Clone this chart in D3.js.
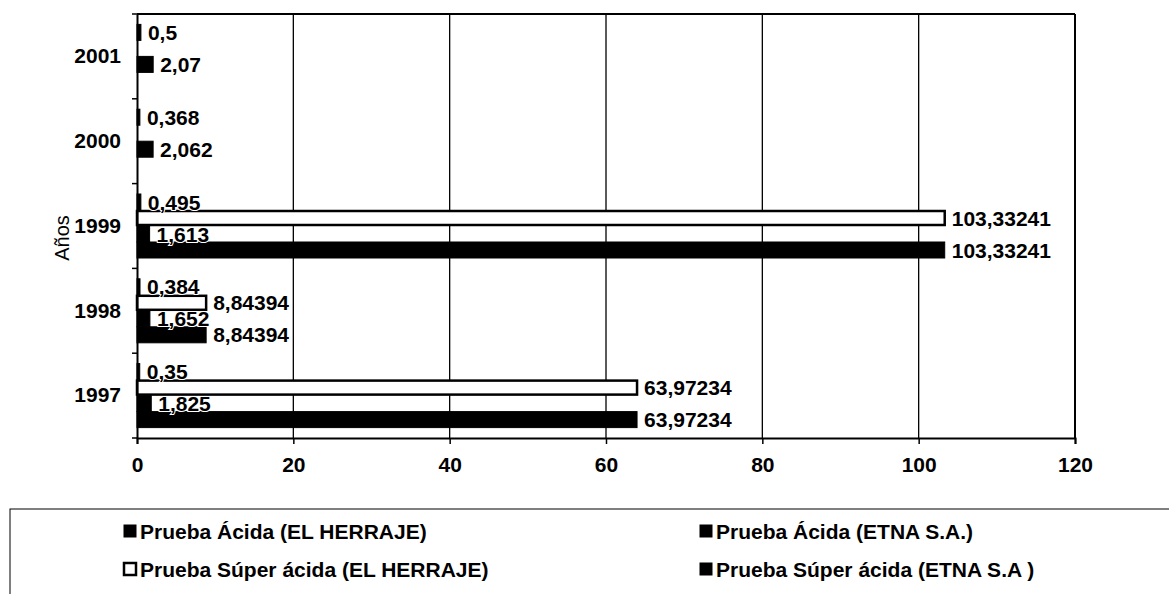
<!DOCTYPE html>
<html>
<head>
<meta charset="utf-8">
<script src="https://cdn.jsdelivr.net/npm/d3@7/dist/d3.min.js"></script>
<style>
  html, body { margin: 0; padding: 0; background: #fff; }
  svg { display: block; font-family: "Liberation Sans", Arial, sans-serif; }
</style>
</head>
<body>
<svg id="chart" width="1169" height="594"></svg>
<script>
// Years, listed top to bottom as they appear on the category axis
const years = ["2001", "2000", "1999", "1998", "1997"];

// Series, one value per year (same order as `years`); null = no bar
const acidaHerraje      = [0.5, 0.368, 0.495, 0.384, 0.35];
const superAcidaHerraje = [null, null, 103.33241, 8.84394, 63.97234];
const acidaEtna         = [2.07, 2.062, 1.613, 1.652, 1.825];
const superAcidaEtna    = [null, null, 103.33241, 8.84394, 63.97234];

const seriesNames = [
  "Prueba Ácida (EL HERRAJE)",
  "Prueba Súper ácida (EL HERRAJE)",
  "Prueba Ácida (ETNA S.A.)",
  "Prueba Súper ácida (ETNA S.A )"
];
const xTicks = [0, 20, 40, 60, 80, 100, 120];
const axisTitle = "Años";

const series = [
  { name: seriesNames[0], values: acidaHerraje,      hollow: false },
  { name: seriesNames[1], values: superAcidaHerraje, hollow: true  },
  { name: seriesNames[2], values: acidaEtna,         hollow: false },
  { name: seriesNames[3], values: superAcidaEtna,    hollow: false }
];

const FONT = 21;
const svg = d3.select("#chart");
const plot = { left: 137, right: 1075, top: 14, bottom: 438 };

const x = d3.scaleLinear().domain([0, 120]).range([plot.left, plot.right]);
const y = d3.scaleBand().domain(years).range([plot.top, plot.bottom]).padding(0);
const ys = d3.scaleBand().domain(d3.range(series.length))
  .range([0, y.bandwidth()]).paddingInner(0).paddingOuter(0.65);

// Vertical grid lines and plot frame
svg.append("g").selectAll("line").data(xTicks.slice(1)).join("line")
  .attr("x1", d => x(d)).attr("x2", d => x(d))
  .attr("y1", plot.top).attr("y2", plot.bottom)
  .attr("stroke", "#000").attr("stroke-width", 1.3);
svg.append("line")
  .attr("x1", plot.left).attr("x2", plot.right)
  .attr("y1", plot.top).attr("y2", plot.top)
  .attr("stroke", "#000").attr("stroke-width", 2);
svg.append("line")
  .attr("x1", plot.right).attr("x2", plot.right)
  .attr("y1", plot.top).attr("y2", plot.bottom)
  .attr("stroke", "#000").attr("stroke-width", 2);

// Bars
const flat = [];
series.forEach((s, si) => s.values.forEach((v, i) => {
  if (v !== null) flat.push({ si, year: years[i], v, hollow: s.hollow });
}));

svg.append("g").selectAll("rect").data(flat).join("rect")
  .attr("x", x(0))
  .attr("y", d => y(d.year) + ys(d.si) + (d.hollow ? 1 : 0))
  .attr("width", d => x(d.v) - x(0))
  .attr("height", d => ys.bandwidth() - (d.hollow ? 2 : 0))
  .attr("fill", d => d.hollow ? "#fff" : "#000")
  .attr("stroke", "#000")
  .attr("stroke-width", d => d.hollow ? 2.5 : 1);

// Value labels
const fmt = v => String(v).replace(".", ",");
svg.append("g").selectAll("text").data(flat).join("text")
  .attr("x", d => x(d.v) + 7)
  .attr("y", d => y(d.year) + ys(d.si) + ys.bandwidth() / 2)
  .attr("dy", "0.36em")
  .attr("font-size", FONT)
  .attr("font-weight", "bold")
  .attr("fill", "#000")
  .attr("stroke", "#fff")
  .attr("stroke-width", 2)
  .attr("paint-order", "stroke")
  .text(d => fmt(d.v));

// X axis
const xAxis = svg.append("g")
  .attr("transform", `translate(0,${plot.bottom})`)
  .call(d3.axisBottom(x).tickValues(xTicks).tickSize(6).tickPadding(13).tickFormat(d3.format("d")));
xAxis.select(".domain").attr("stroke-width", 2);
xAxis.selectAll(".tick line").attr("stroke-width", 1.5);
xAxis.selectAll("text").attr("font-size", FONT).attr("font-weight", "bold")
  .attr("font-family", "Liberation Sans, Arial, sans-serif");

// Y axis: labels centred on each year, ticks on the band boundaries
const yAxis = svg.append("g")
  .attr("transform", `translate(${plot.left},0)`)
  .call(d3.axisLeft(y).tickSize(0).tickPadding(16));
yAxis.select(".domain").attr("stroke-width", 2);
yAxis.selectAll("text").attr("font-size", FONT).attr("font-weight", "bold")
  .attr("font-family", "Liberation Sans, Arial, sans-serif");
const bounds = years.map(yr => y(yr)).concat([plot.bottom]);
svg.append("g").selectAll("line").data(bounds).join("line")
  .attr("x1", plot.left - 5).attr("x2", plot.left)
  .attr("y1", d => d).attr("y2", d => d)
  .attr("stroke", "#000").attr("stroke-width", 1.5);

// Axis title
svg.append("text")
  .attr("transform", `translate(69,238) rotate(-90)`)
  .attr("text-anchor", "middle")
  .attr("font-size", 20)
  .text(axisTitle);

// Legend
const legend = svg.append("g");
legend.append("rect")
  .attr("x", 10).attr("y", 509).attr("width", 1200).attr("height", 120)
  .attr("fill", "none").attr("stroke", "#000").attr("stroke-width", 1);
const legendPos = [
  { x: 124, y: 531 }, { x: 124, y: 569 },
  { x: 700, y: 531 }, { x: 700, y: 569 }
];
const li = legend.selectAll("g.item").data(d3.range(series.length)).join("g")
  .attr("class", "item")
  .attr("transform", (d, i) => `translate(${legendPos[i].x},${legendPos[i].y})`);
li.append("rect")
  .attr("x", 0).attr("y", -6).attr("width", 12).attr("height", 12)
  .attr("fill", d => series[d].hollow ? "#fff" : "#000")
  .attr("stroke", "#000").attr("stroke-width", d => series[d].hollow ? 2.5 : 1);
li.append("text")
  .attr("x", 16).attr("dy", "0.36em")
  .attr("font-size", FONT).attr("font-weight", "bold")
  .text(d => series[d].name);
</script>
</body>
</html>
